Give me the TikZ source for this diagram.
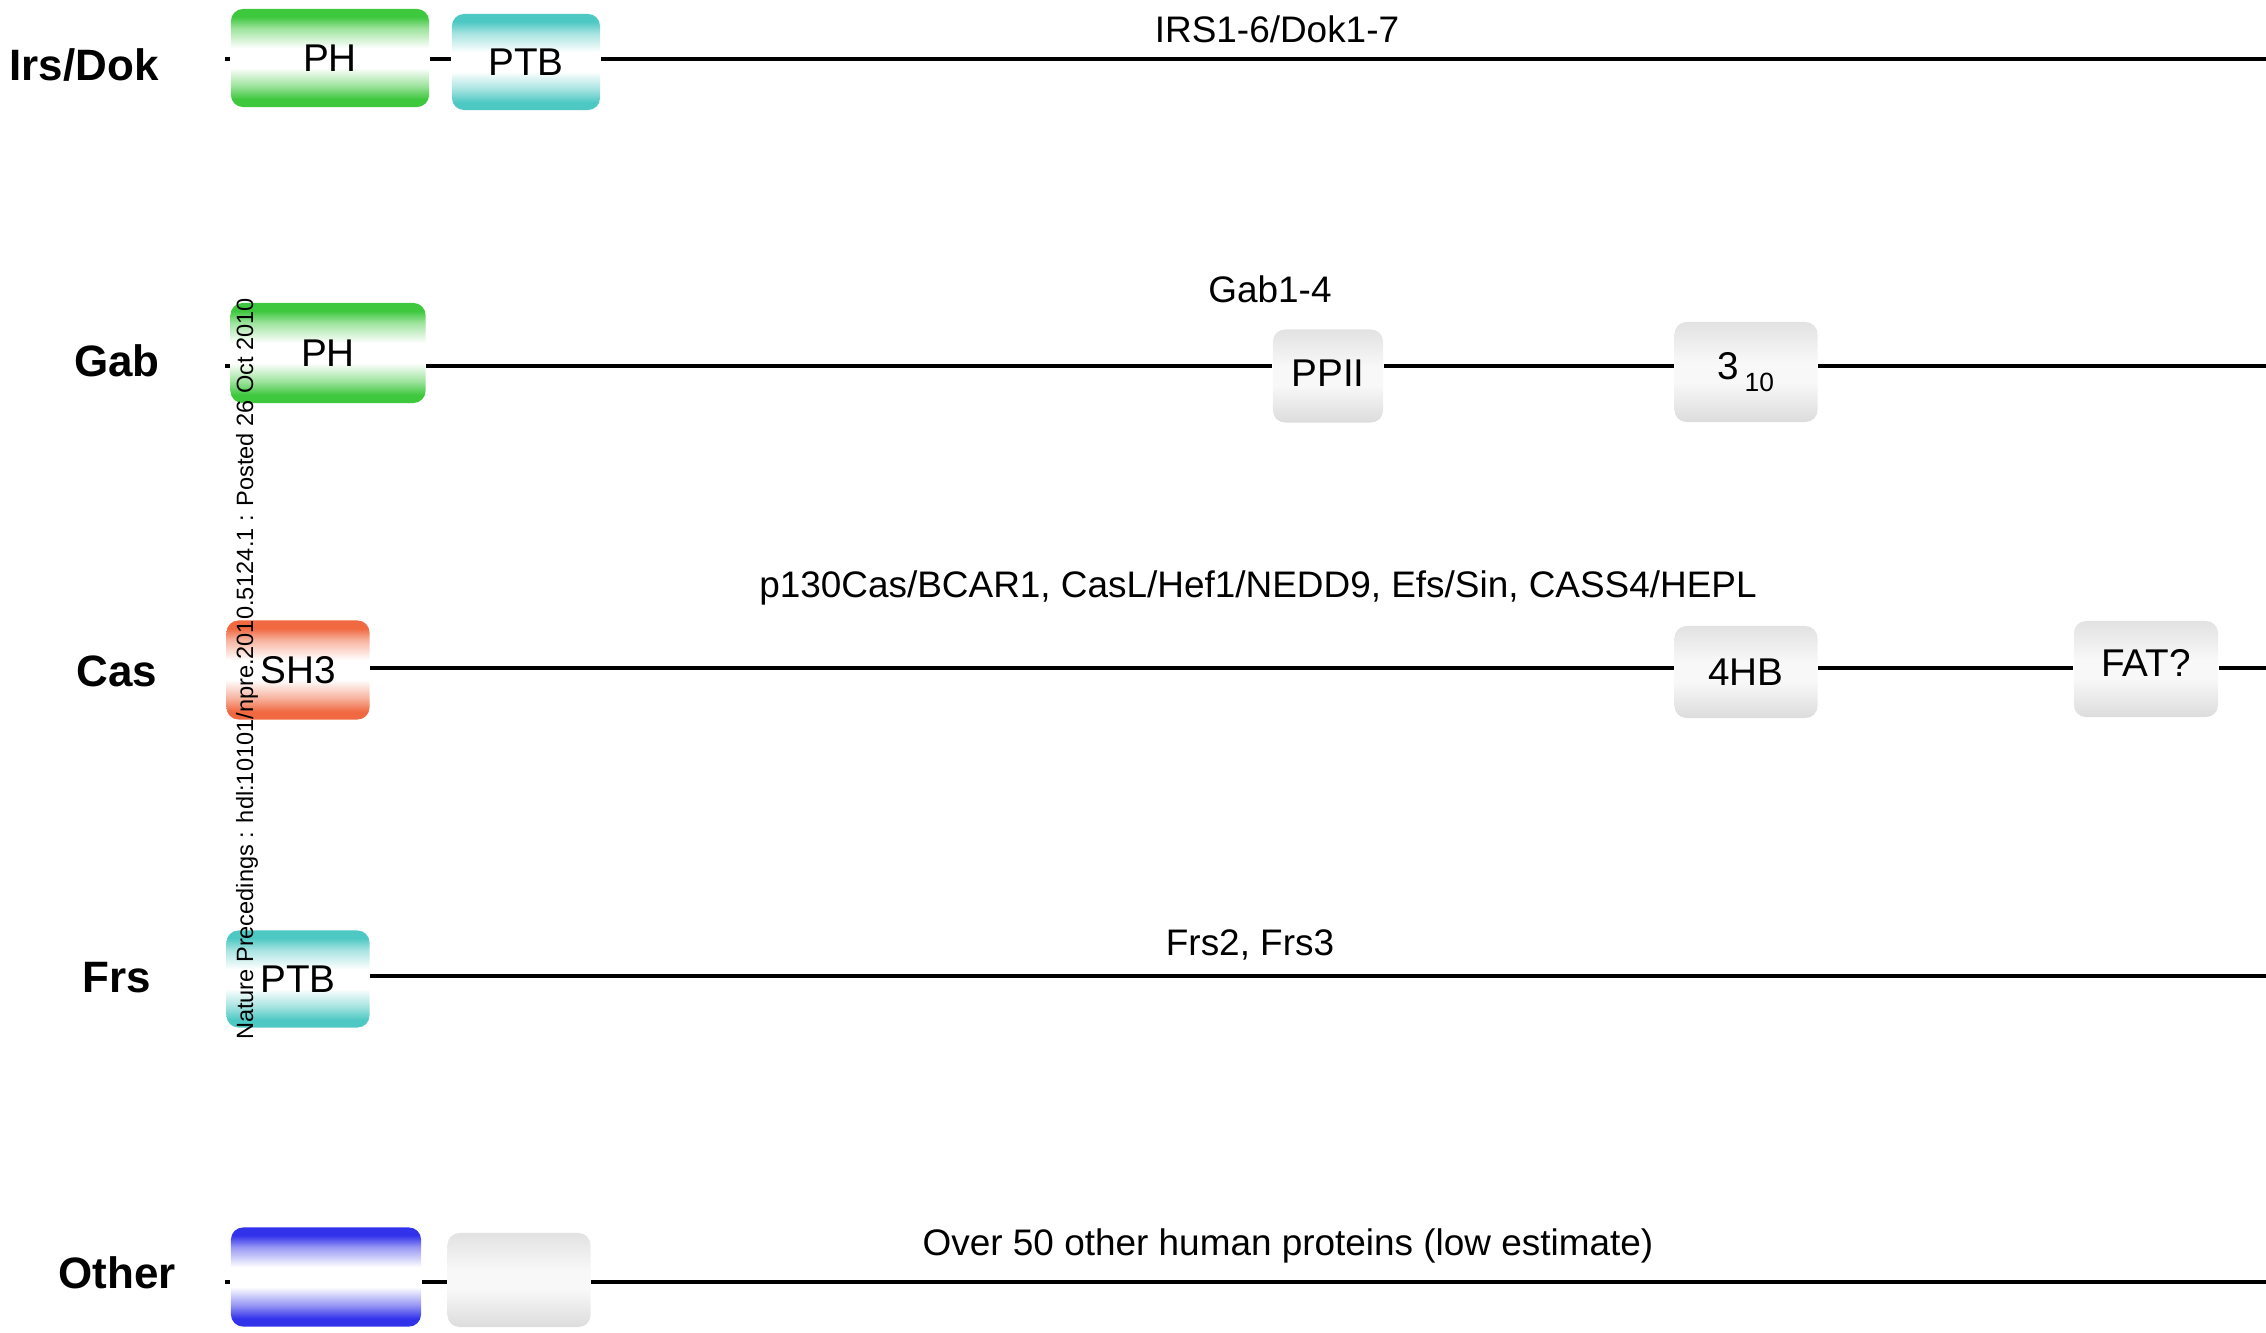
\documentclass[tikz,border=0pt]{standalone}
\usepackage{fontspec}
\setmainfont{Liberation Sans}
\definecolor{domgreen}{RGB}{62,200,62}
\definecolor{domteal}{RGB}{78,200,195}
\definecolor{domorange}{RGB}{240,105,65}
\definecolor{domblue}{RGB}{50,50,235}
\definecolor{domgrayT}{RGB}{226,226,226}
\definecolor{domgrayB}{RGB}{220,220,220}
\definecolor{domgrayM}{RGB}{248,248,248}
\newcommand{\mydomshading}[2]{%
  \colorlet{#1lite}{#2!50!white}%
  \pgfdeclareverticalshading{#1}{100bp}{color(0bp)=(#2); color(25bp)=(#2); color(29bp)=(#2); color(36bp)=(#1lite); color(45bp)=(white); color(55bp)=(white); color(65bp)=(#1lite); color(71bp)=(#2); color(100bp)=(#2)}}
\mydomshading{greenshade}{domgreen}
\mydomshading{tealshade}{domteal}
\mydomshading{orangeshade}{domorange}
\mydomshading{blueshade}{domblue}
\pgfdeclareverticalshading{grayshade}{100bp}{color(0bp)=(domgrayB); color(25bp)=(domgrayB); color(45bp)=(domgrayM); color(55bp)=(domgrayM); color(75bp)=(domgrayT); color(100bp)=(domgrayT)}
\begin{document}
\begin{tikzpicture}[x=0.01cm,y=-0.01cm,
  rowlabel/.style={font=\fontsize{12.5}{14}\selectfont\bfseries, inner sep=0pt},
  caption/.style={font=\fontsize{10.5}{12}\selectfont, inner sep=0pt},
  dom/.style={rounded corners=0.12cm, inner sep=0pt, font=\fontsize{11}{13}\selectfont},
  greendom/.style={dom, shading=greenshade},
  tealdom/.style={dom, shading=tealshade},
  orangedom/.style={dom, shading=orangeshade},
  bluedom/.style={dom, shading=blueshade},
  graydom/.style={dom, shading=grayshade},
  backbone/.style={line width=1.15pt}]
\useasboundingbox (0,0) rectangle (2266,1333);

% ---------- Row 1: Irs/Dok ----------
\node[rowlabel] (lab1) at (84,65) {Irs/Dok};
\node[caption] (cap1) at (1277,29) {IRS1-6/Dok1-7};
\node[greendom, minimum width=1.98cm, minimum height=0.98cm] (ph1) at (330,58) {PH};
\node[tealdom, minimum width=1.48cm, minimum height=0.96cm] (ptb1) at (526,62) {PTB};
\coordinate (s1) at (225,59);
\coordinate (e1) at (2266,59);
\draw[backbone] (s1) -- (ph1.west |- s1);
\draw[backbone] (ph1.east |- s1) -- (ptb1.west |- s1);
\draw[backbone] (ptb1.east |- s1) -- (e1);

% ---------- Row 2: Gab ----------
\node[rowlabel] (lab2) at (117,361) {Gab};
\node[caption] (cap2) at (1270,289) {Gab1-4};
\node[greendom, minimum width=1.95cm, minimum height=1.00cm] (ph2) at (328,353) {PH};
\node[graydom, minimum width=1.10cm, minimum height=0.93cm] (ppii) at (1328,376) {\raisebox{0.3ex}{PPII}};
\node[graydom, minimum width=1.43cm, minimum height=1.00cm] (h310) at (1746,372) {3\kern1.5pt\raisebox{-0.55ex}{\fontsize{7.5}{8}\selectfont 10}};
\coordinate (s2) at (225,366);
\coordinate (e2) at (2266,366);
\draw[backbone] (s2) -- (ph2.west |- s2);
\draw[backbone] (ph2.east |- s2) -- (ppii.west |- s2);
\draw[backbone] (ppii.east |- s2) -- (h310.west |- s2);
\draw[backbone] (h310.east |- s2) -- (e2);

% ---------- Row 3: Cas ----------
\node[rowlabel] (lab3) at (117,671) {Cas};
\node[caption] (cap3) at (1258,588) {p130Cas/BCAR1, CasL/Hef1/NEDD9, Efs/Sin, CASS4/HEPL};
\node[orangedom, minimum width=1.43cm, minimum height=0.99cm] (sh3) at (298,670) {SH3};
\node[graydom, minimum width=1.43cm, minimum height=0.92cm] (fhb) at (1746,672) {4HB};
\node[graydom, minimum width=1.44cm, minimum height=0.96cm] (fat) at (2146,669) {\raisebox{0.6ex}{FAT?}};
\coordinate (s3) at (225,668);
\coordinate (e3) at (2266,668);
\draw[backbone] (sh3.east |- s3) -- (fhb.west |- s3);
\draw[backbone] (fhb.east |- s3) -- (fat.west |- s3);
\draw[backbone] (fat.east |- s3) -- (e3);

% ---------- Row 4: Frs ----------
\node[rowlabel] (lab4) at (117,978) {Frs};
\node[caption] (cap4) at (1250,945) {Frs2, Frs3};
\node[tealdom, minimum width=1.43cm, minimum height=0.97cm] (ptb4) at (298,979) {PTB};
\coordinate (s4) at (225,976);
\coordinate (e4) at (2266,976);
\draw[backbone] (ptb4.east |- s4) -- (e4);

% ---------- Row 5: Other ----------
\node[rowlabel] (lab5) at (117,1273) {Other};
\node[caption] (cap5) at (1288,1246) {Over 50 other human proteins (low estimate)};
\node[bluedom, minimum width=1.90cm, minimum height=0.99cm] (blue5) at (326,1277) {};
\node[graydom, minimum width=1.43cm, minimum height=0.94cm] (gray5) at (519,1280) {};
\coordinate (s5) at (225,1282);
\coordinate (e5) at (2266,1282);
\draw[backbone] (s5) -- (blue5.west |- s5);
\draw[backbone] (blue5.east |- s5) -- (gray5.west |- s5);
\draw[backbone] (gray5.east |- s5) -- (e5);

% ---------- Watermark ----------
\node[rotate=90, inner sep=0pt, font=\fontsize{6.7}{8}\selectfont] (wm) at (247,669)
  {Nature Precedings : hdl:10101/npre.2010.5124.1 : Posted 26 Oct 2010};
\end{tikzpicture}
\end{document}
